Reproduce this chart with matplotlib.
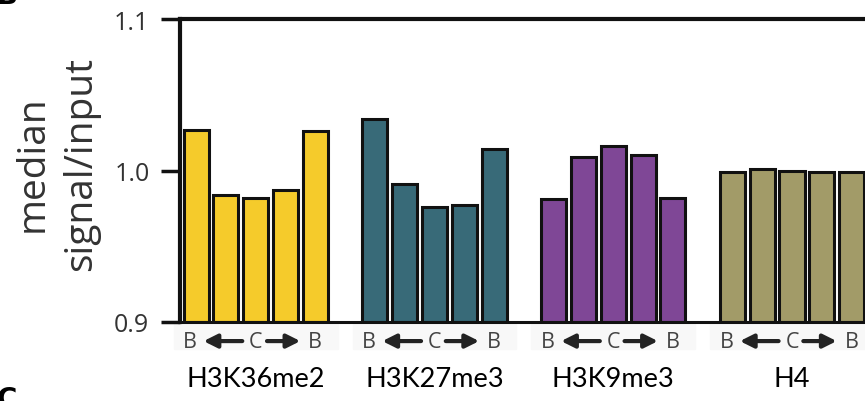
import numpy as np
from matplotlib import pyplot as plt
from matplotlib.patches import Rectangle

# median signal/input per bin, border -> center -> border
marks = ['H3K36me2', 'H3K27me3', 'H3K9me3', 'H4']
h3k36me2 = [1.027, 0.984, 0.982, 0.987, 1.026]
h3k27me3 = [1.034, 0.991, 0.976, 0.977, 1.014]
h3k9me3 = [0.981, 1.009, 1.0165, 1.010, 0.982]
h4 = [0.999, 1.001, 1.000, 0.999, 0.999]
series = [h3k36me2, h3k27me3, h3k9me3, h4]
colors = ['#F5CB2B', '#386A78', '#7F4796', '#A29B68']
yticks = [0.9, 1.0, 1.1]

fig = plt.figure(figsize=(8.65, 4.02), dpi=100)
ax = fig.add_axes([180 / 865, 79 / 402, 685 / 865, 303 / 402])

base = 0.9
for g, vals in enumerate(series):
    x = g * 6 + np.arange(len(vals))
    ax.bar(x, np.array(vals) - base, bottom=base, width=0.84,
           color=colors[g], edgecolor='#111111', linewidth=2.2, zorder=2)

ax.set_xlim(-0.54, 22.45)
ax.set_ylim(0.9, 1.1)
ax.set_xticks([])
ax.set_yticks(yticks)
ax.set_yticklabels(['%.1f' % t for t in yticks], fontsize=18, color='#333333',
                   family='Open Sans')
ax.tick_params(axis='y', length=14, width=2.5, color='#111111', pad=8)

for side in ['left', 'top']:
    ax.spines[side].set_linewidth(3)
    ax.spines[side].set_color('#111111')
ax.spines['bottom'].set_linewidth(2.2)
ax.spines['bottom'].set_color('#111111')
ax.spines['right'].set_visible(False)

fig.text(57 / 865, 1 - 164 / 402, 'median\nsignal/input', rotation=90,
         ha='center', va='center', fontsize=28, color='#333333',
         family='Open Sans', linespacing=1.35)

# B <- C -> B under each group, mark names below
trans = ax.get_xaxis_transform()
ya = -0.063
arrow = dict(arrowstyle='-|>,head_length=0.8,head_width=0.4',
             color='#222222', lw=3, shrinkA=0, shrinkB=0)
for g, name in enumerate(marks):
    c = g * 6 + 2
    ax.add_patch(Rectangle((c - 2.75, -0.09), 5.5, 0.085, transform=trans,
                           color='#f8f8f8', clip_on=False, zorder=0))
    for dx, s in [(-2.2, 'B'), (0, 'C'), (2.0, 'B')]:
        ax.text(c + dx, ya, s, transform=trans, ha='center', va='center',
                fontsize=15.5, color='#444444', family='Open Sans')
    ax.annotate('', xy=(c - 1.75, ya), xytext=(c - 0.45, ya),
                xycoords=trans, textcoords=trans, annotation_clip=False,
                arrowprops=arrow)
    ax.annotate('', xy=(c + 1.5, ya), xytext=(c + 0.38, ya),
                xycoords=trans, textcoords=trans, annotation_clip=False,
                arrowprops=arrow)
    ax.text(c, -0.185, name, transform=trans, ha='center', va='center',
            fontsize=19.5, color='black', family='Lato')

# panel letters of the neighbouring panels
fig.text(-0.004, 0.975, 'B', fontsize=20, fontweight='bold', va='bottom')
fig.text(-0.004, 0.04, 'C', fontsize=20, fontweight='bold', va='top')

fig.savefig('out.png', dpi=100)
